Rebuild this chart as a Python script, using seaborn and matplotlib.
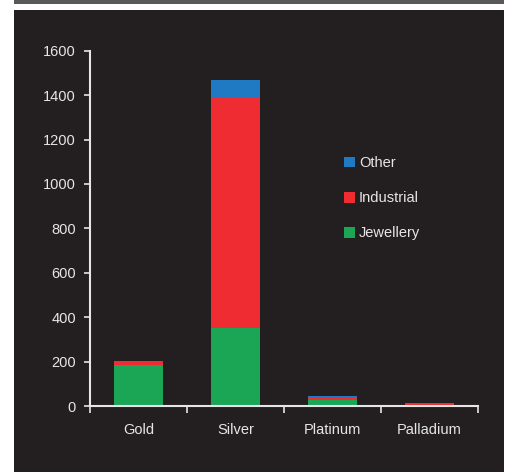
import matplotlib
matplotlib.use("Agg")
import matplotlib.pyplot as plt
import seaborn as sns
import pandas as pd
import numpy as np
from matplotlib.patches import Rectangle, Patch

metals = ["Gold", "Silver", "Platinum", "Palladium"]
jewellery = [183, 353, 28, 1]
industrial = [15, 1038, 9, 11]
other = [5, 78, 6, 0]
series_names = ["Other", "Industrial", "Jewellery"]
colors = {"Other": "#2079c3", "Industrial": "#ee2c31", "Jewellery": "#1ba655"}
yticks = [0, 200, 400, 600, 800, 1000, 1200, 1400, 1600]

BG = "#231f20"
FG = "#e6e6e6"

sns.set_theme(style="dark")
plt.rcParams['font.family'] = ['Liberation Sans', 'DejaVu Sans']

W, H = 505, 472
fig = plt.figure(figsize=(W / 100, H / 100), dpi=100)
fig.patch.set_facecolor("white")
r1 = Rectangle((14 / W, 0), (504 - 14) / W, (H - 10) / H,
               transform=fig.transFigure, facecolor=BG, edgecolor="none", zorder=-5)
r2 = Rectangle((14 / W, (H - 4) / H), (504 - 14) / W, 4 / H,
               transform=fig.transFigure, facecolor="#58585a", edgecolor="none", zorder=-5)
fig.add_artist(r1)
fig.add_artist(r2)

ax = fig.add_axes([90 / W, (H - 406) / H, (478 - 90) / W, (406 - 50.7) / H])
ax.set_zorder(5)
ax.set_facecolor(BG)

df = pd.DataFrame({"metal": metals, "Jewellery": jewellery,
                   "Industrial": industrial, "Other": other})
df["c_jew"] = df["Jewellery"]
df["c_ind"] = df["Jewellery"] + df["Industrial"]
df["c_oth"] = df["c_ind"] + df["Other"]

for col, name in [("c_oth", "Other"), ("c_ind", "Industrial"), ("c_jew", "Jewellery")]:
    sns.barplot(data=df, x="metal", y=col, color=colors[name], width=0.5,
                saturation=1, ax=ax, errorbar=None, linewidth=0)

ax.set_xlim(-0.5, 3.5)
ax.set_ylim(0, 1600)
ax.set_yticks(yticks)
ax.set_yticklabels([str(v) for v in yticks])
ax.set_xticks([-0.5, 0.5, 1.5, 2.5, 3.5])
ax.set_xticklabels([])
ax.set_xticks(range(len(metals)), minor=True)
ax.set_xticklabels(metals, minor=True)
ax.set_xlabel("")
ax.set_ylabel("")
ax.grid(False)

for s in ["top", "right"]:
    ax.spines[s].set_visible(False)
for s in ["left", "bottom"]:
    ax.spines[s].set_visible(True)
    ax.spines[s].set_color(FG)
    ax.spines[s].set_linewidth(1.5)

FS = 10.5
ax.tick_params(axis="y", which="major", direction="out", length=4, width=1.2,
               color=FG, labelcolor=FG, labelsize=FS, pad=6, left=True)
ax.tick_params(axis="x", which="major", direction="out", length=5, width=1.2,
               color=FG, bottom=True)
ax.tick_params(axis="x", which="minor", length=0, labelcolor=FG, labelsize=FS, pad=12)

handles = [Patch(facecolor=colors[n], edgecolor="none") for n in series_names]
leg = ax.legend(handles, series_names, loc="upper left", bbox_to_anchor=(0.62, 0.74),
                frameon=False, labelspacing=1.45, handlelength=0.75, handleheight=0.75,
                handletextpad=0.3, fontsize=FS)
for t in leg.get_texts():
    t.set_color(FG)

fig.savefig("out.png", dpi=100, facecolor=fig.get_facecolor())
